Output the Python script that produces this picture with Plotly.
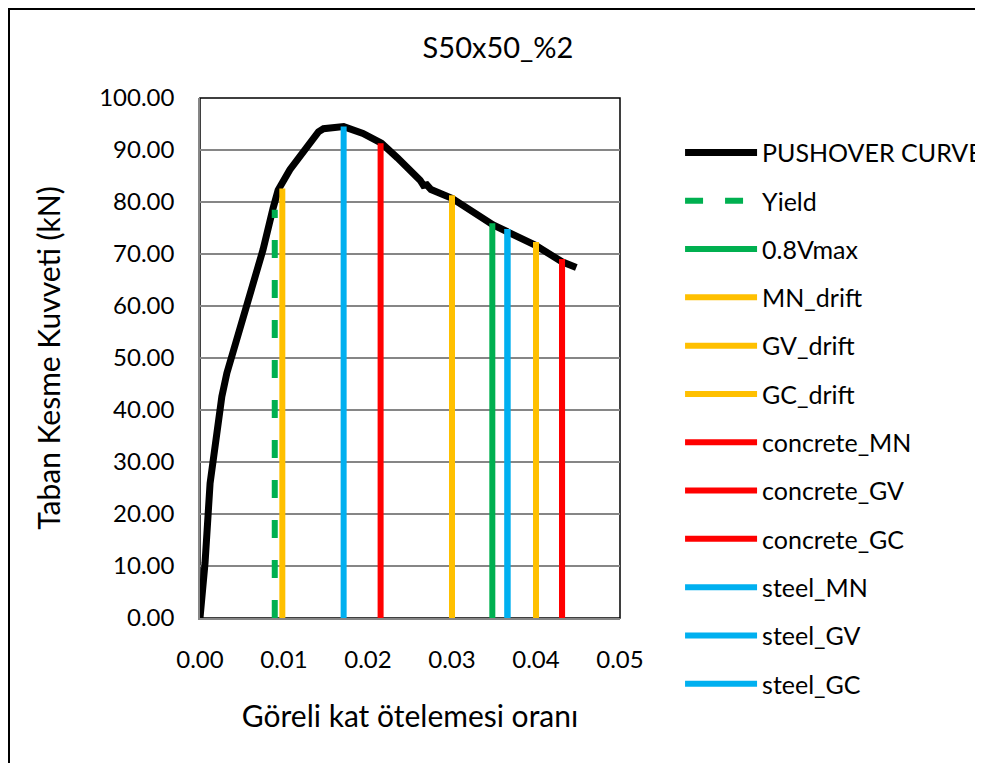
import plotly.graph_objects as go

# ---------------- data ----------------
title_text = "S50x50_%2"
x_title = "Göreli kat ötelemesi oranı"
y_title = "Taban Kesme Kuvveti (kN)"

pushover_drift = [0, 0.0006, 0.0012, 0.0020, 0.0026, 0.0032, 0.0040, 0.0052, 0.0063, 0.0075,
                  0.0087, 0.0093, 0.0107, 0.0125, 0.0141, 0.0147, 0.0171, 0.0194, 0.0216, 0.0235,
                  0.0250, 0.0262, 0.0266, 0.0270, 0.0275, 0.0300, 0.0349, 0.0365, 0.0399, 0.0431,
                  0.0448]
pushover_shear = [0, 10.6, 25.9, 36.2, 42.6, 47.1, 51.5, 58.6, 65.0, 70.8,
                  78.8, 82.3, 86.2, 90.0, 93.5, 94.1, 94.5, 93.2, 91.3, 88.5,
                  86.2, 84.2, 83.2, 83.3, 82.4, 80.7, 75.6, 74.3, 71.7, 68.5,
                  67.4]

limit_names = ["Yield", "0.8Vmax", "MN_drift", "GV_drift", "GC_drift",
               "concrete_MN", "concrete_GV", "concrete_GC",
               "steel_MN", "steel_GV", "steel_GC"]
limit_drift = [0.0089, 0.0348, 0.0098, 0.0300, 0.0400,
               0.0215, 0.0431, 0.0431,
               0.0171, 0.0366, 0.0366]
limit_shear = [78.5, 75.9, 82.6, 81.3, 72.3,
               91.3, 69.0, 69.0,
               94.5, 74.8, 74.8]
limit_colors = ["#00B050", "#00B050", "#FFC000", "#FFC000", "#FFC000",
                "#FF0000", "#FF0000", "#FF0000",
                "#00B0F0", "#00B0F0", "#00B0F0"]
limit_dash = ["18px,22px"] + ["solid"] * 10

FONT = "Lato"

fig = go.Figure()
fig.add_trace(go.Scatter(
    x=pushover_drift, y=pushover_shear, mode="lines", name="PUSHOVER CURVE",
    line=dict(color="black", width=7), legendgroup="g0"))

for i, (n, xv, yv, c, d) in enumerate(zip(limit_names, limit_drift, limit_shear, limit_colors, limit_dash)):
    fig.add_trace(go.Scatter(
        x=[xv, xv], y=[0, yv], mode="lines", name=n,
        line=dict(color=c, width=6, dash=d), legendgroup=f"g{i+1}"))

fig.update_layout(
    width=983, height=763,
    margin=dict(l=192, r=371, t=90, b=153, autoexpand=False),
    paper_bgcolor="white", plot_bgcolor="white",
    font=dict(family=FONT, color="black"),
    title=dict(text=title_text, x=0.4985, xref="container", xanchor="center",
               y=0.9476, yref="container", yanchor="middle",
               font=dict(size=29, family=FONT, color="black")),
    showlegend=True,
    legend=dict(x=1.143, xanchor="left", y=0.939, yanchor="top",
                font=dict(size=25, family=FONT, color="black"),
                itemwidth=72, tracegroupgap=12.8, maxheight=720,
                bgcolor="rgba(0,0,0,0)"),
    shapes=[
        dict(type="rect", xref="paper", yref="paper", x0=0, x1=1, y0=0, y1=1,
             line=dict(color="black", width=1.5), layer="below"),
        dict(type="rect", xref="paper", yref="paper",
             x0=-191 / 420, x1=2.0, y0=-0.5, y1=1 + 89 / 520,
             line=dict(color="black", width=2), layer="below"),
    ],
)

fig.update_xaxes(range=[0, 0.05], dtick=0.01, tickformat=".2f", showgrid=False,
                 showline=True, linecolor="#868686", linewidth=1.5, zeroline=False,
                 ticks="", ticklabelstandoff=19,
                 tickfont=dict(size=24, family=FONT, color="black"),
                 title=dict(text=x_title, font=dict(size=30, family=FONT, color="black"), standoff=34))
fig.update_yaxes(range=[0, 100], dtick=10, tickformat=".2f", showgrid=True,
                 gridcolor="#868686", gridwidth=1.5,
                 showline=True, linecolor="#868686", linewidth=1.5, zeroline=False,
                 ticks="", ticklabelstandoff=19,
                 tickfont=dict(size=24, family=FONT, color="black"),
                 title=dict(text=y_title, font=dict(size=30, family=FONT, color="black"), standoff=30))

fig.write_html("out.html")
